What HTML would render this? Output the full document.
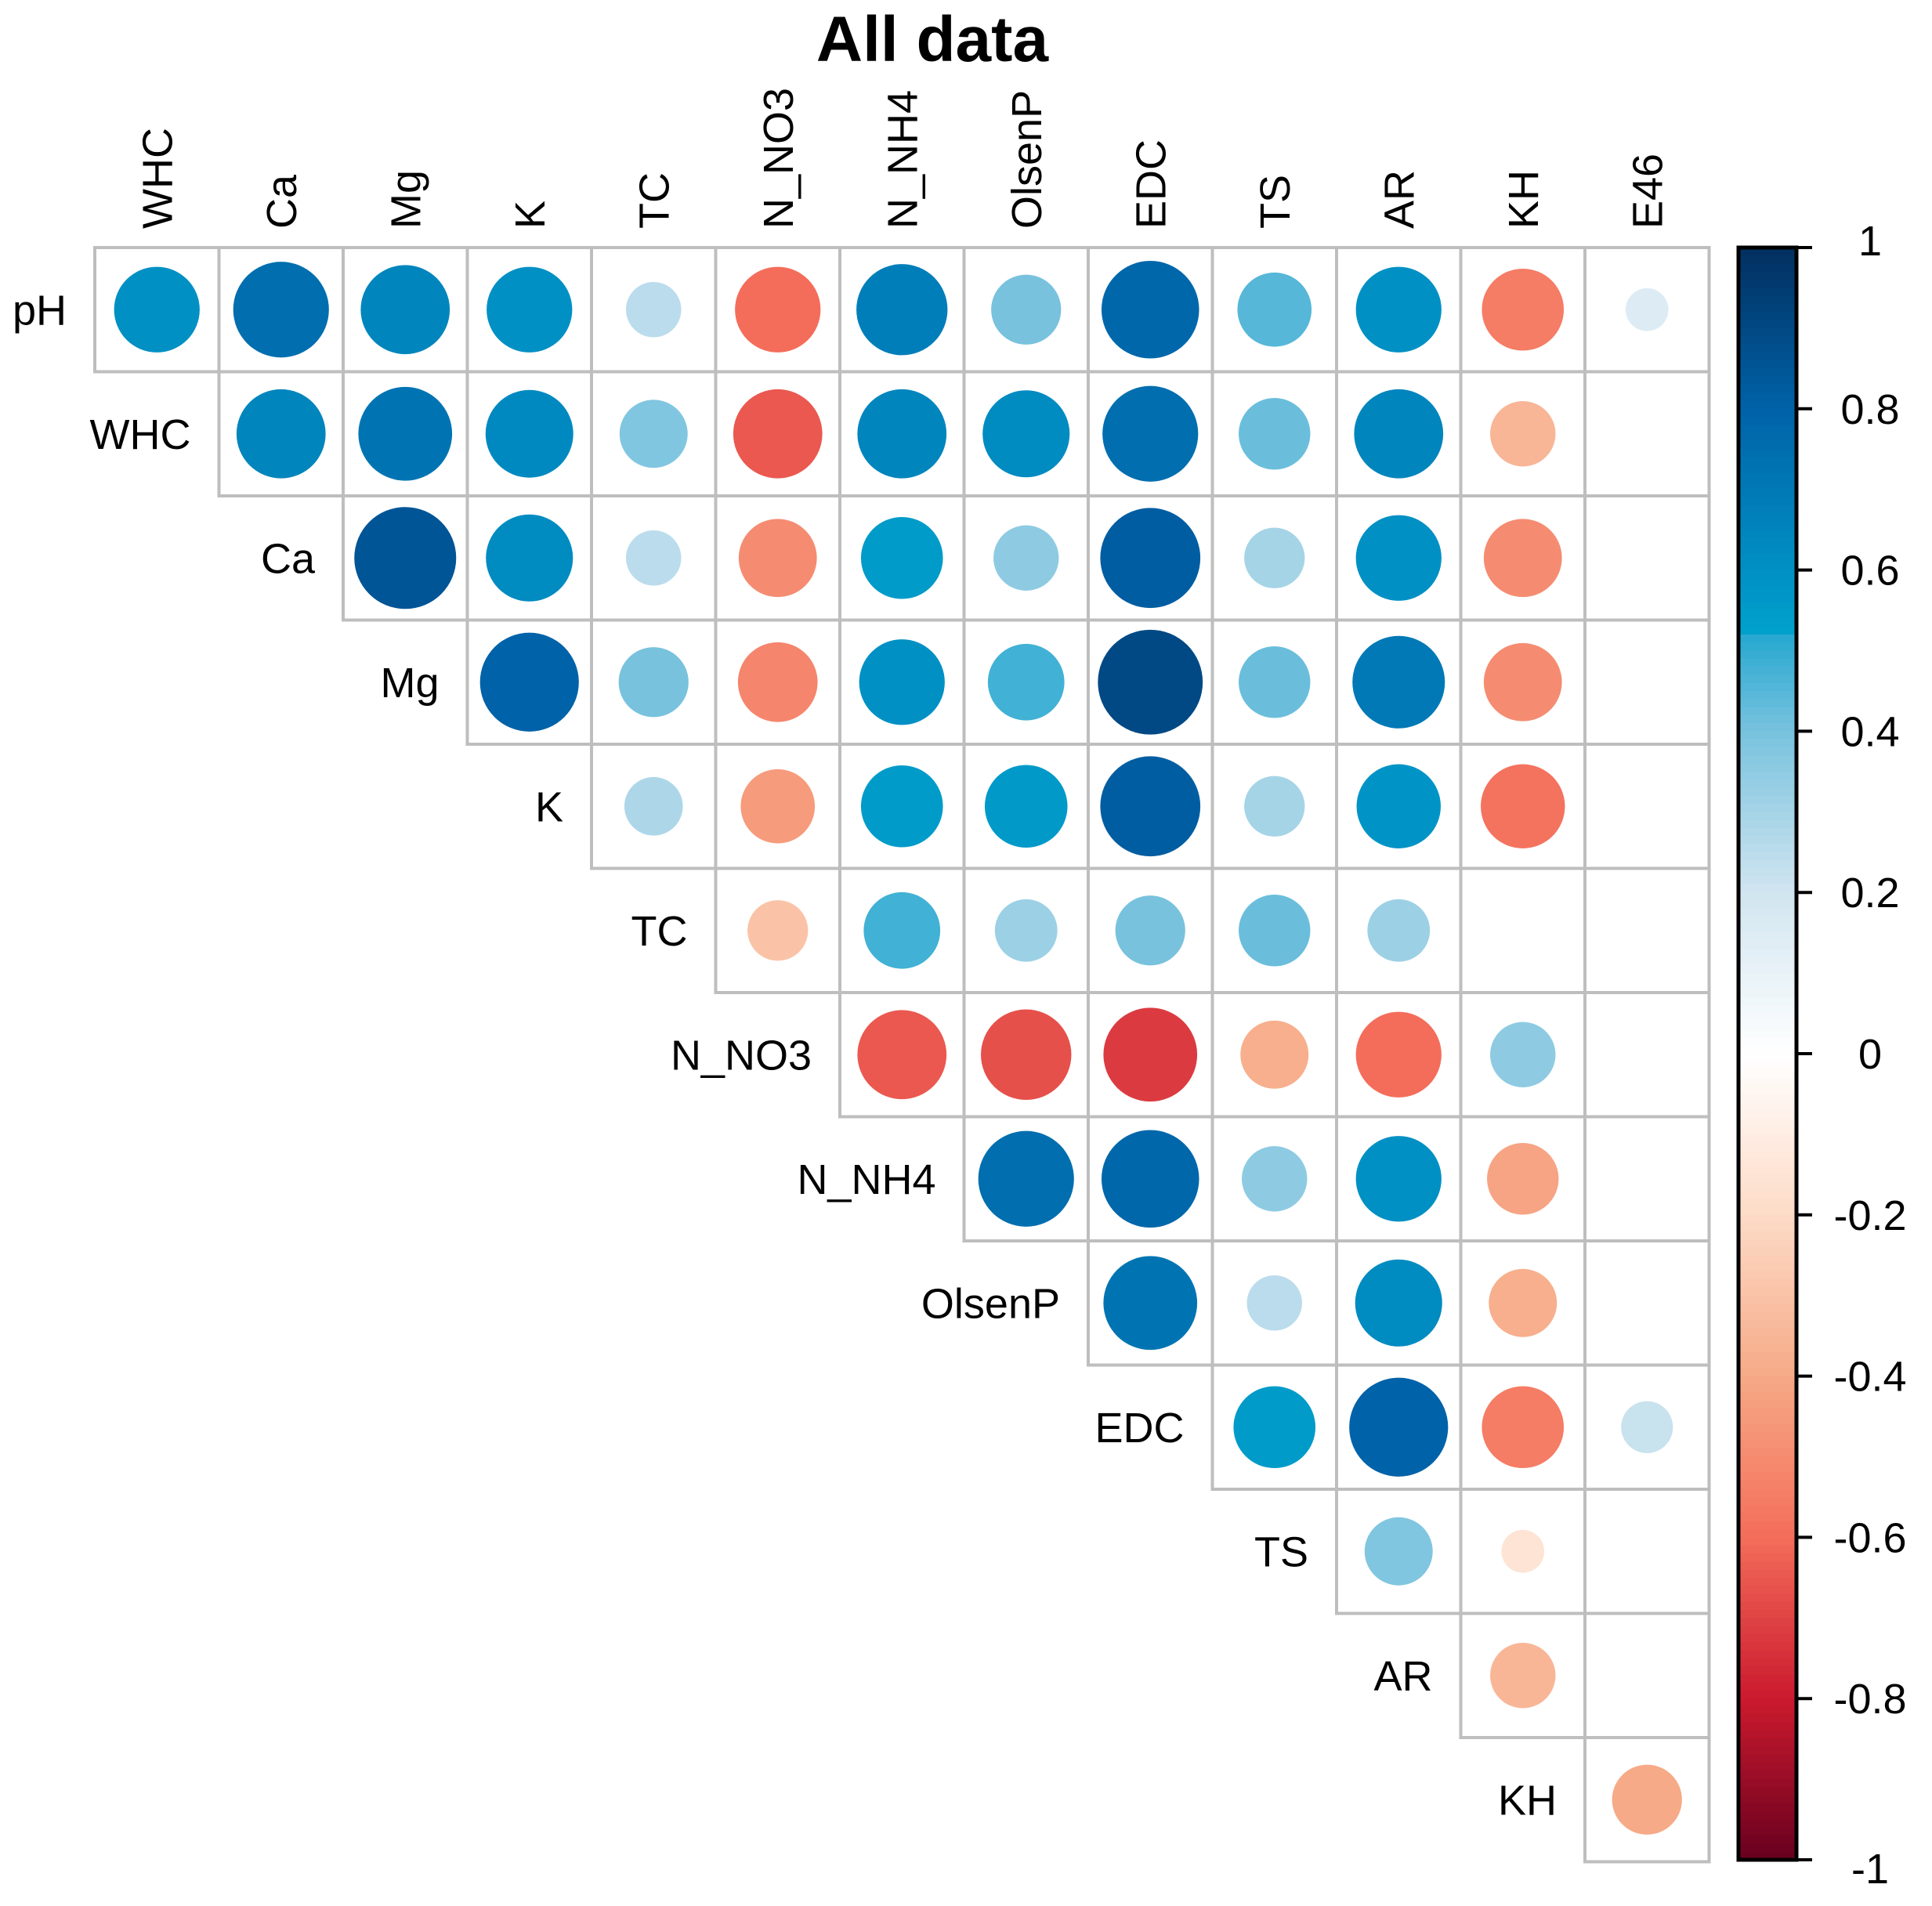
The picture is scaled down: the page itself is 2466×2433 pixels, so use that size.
<!DOCTYPE html>
<html><head><meta charset="utf-8"><style>
html,body{margin:0;padding:0;background:#fff;}
svg{display:block;font-family:"Liberation Sans",Arial,sans-serif;}
</style></head><body>
<svg id="chart" xmlns="http://www.w3.org/2000/svg" width="2466" height="2433" viewBox="0 0 2466 2433">
<text x="1190" y="78" font-size="82" font-weight="bold" text-anchor="middle">All data</text>
<g id="grid"></g><g id="circles"></g><g id="labels"></g><g id="cbar"></g>
</svg>
<script>
const vars = ["pH","WHC","Ca","Mg","K","TC","N_NO3","N_NH4","OlsenP","EDC","TS","AR","KH","E46"];
const rowPH = [0.6,0.75,0.65,0.6,0.25,-0.6,0.68,0.4,0.78,0.45,0.6,-0.55,0.15];
const rowWHC = [0.65,0.72,0.63,0.38,-0.65,0.65,0.62,0.75,0.42,0.65,-0.35,0];
const rowCa = [0.85,0.62,0.25,-0.5,0.55,0.35,0.82,0.3,0.6,-0.5,0];
const rowMg = [0.8,0.4,-0.52,0.6,0.48,0.9,0.42,0.7,-0.5,0];
const rowK = [0.28,-0.45,0.55,0.56,0.82,0.3,0.58,-0.58,0];
const rowTC = [-0.3,0.48,0.32,0.4,0.42,0.32,0,0];
const rowNO3 = [-0.65,-0.67,-0.72,-0.38,-0.6,0.35,0];
const rowNH4 = [0.75,0.78,0.35,0.6,-0.42,0];
const rowOlsen = [0.72,0.25,0.62,-0.38,0];
const rowEDC = [0.55,0.8,-0.55,0.22];
const rowTS = [0.38,-0.15,0];
const rowAR = [-0.35,0];
const rowKH = [-0.4];
const rows = [rowPH,rowWHC,rowCa,rowMg,rowK,rowTC,rowNO3,rowNH4,rowOlsen,rowEDC,rowTS,rowAR,rowKH];
const cbTicks = [1,0.8,0.6,0.4,0.2,0,-0.2,-0.4,-0.6,-0.8,-1];
const cbTickLabels = ["1","0.8","0.6","0.4","0.2","0","-0.2","-0.4","-0.6","-0.8","-1"];

const NS="http://www.w3.org/2000/svg";
const L=121, T=316, C=158.5;
const cbL=2219, cbR=2293, cbT=316, cbB=2374;
const colX = j => L + (j-1)*C;       // column index j: 1..13 (vars[j])
const rowY = i => T + i*C;           // row index i: 0..12
const cbY = v => cbT + (1-v)/2*(cbB-cbT);
const stops=[[-1,[103,0,31]],[-0.8,[203,26,46]],[-0.6,[244,109,90]],[-0.4,[246,170,135]],[-0.2,[253,219,199]],[0,[255,255,255]],[0.2,[209,229,240]],[0.4,[120,194,222]],[0.52,[38,168,208]],[0.525,[0,160,204]],[0.6,[0,144,196]],[0.8,[0,98,168]],[1,[2,47,95]]];
function col(v){for(let k=0;k<stops.length-1;k++){const a=stops[k],b=stops[k+1];if(v>=a[0]&&v<=b[0]){const t=(v-a[0])/(b[0]-a[0]);const c=a[1].map((x,i)=>Math.round(x+(b[1][i]-x)*t));return `rgb(${c})`;}}return "#fff";}
function mk(tag,attrs,parent){const e=document.createElementNS(NS,tag);for(const k in attrs)e.setAttribute(k,attrs[k]);parent.appendChild(e);return e;}
const grid=document.getElementById('grid'),circ=document.getElementById('circles'),lab=document.getElementById('labels'),cb=document.getElementById('cbar');
rows.forEach((row,i)=>{
  row.forEach((v,k)=>{
    const j=i+1+k;
    const x=colX(j), y=rowY(i);
    const r=mk('rect',{x:x,y:y,width:C,height:C,fill:'none',stroke:'#bebebe','stroke-width':4},grid);
    
    
    if(v!==0){
      const c=mk('circle',{cx:x+C/2,cy:y+C/2,r:0.445*C*Math.sqrt(Math.abs(v)),fill:col(v)},circ);
      
      
    }
  });
  const t=mk('text',{x:colX(i+1)-36,y:rowY(i)+C/2+19,'font-size':54,'text-anchor':'end'},lab);
  t.textContent=vars[i];
  
  
});
for(let j=1;j<vars.length;j++){
  const cx=colX(j)+C/2+19;
  const t=mk('text',{x:cx,y:292,'font-size':54,transform:`rotate(-90 ${cx} 292)`},lab);
  t.textContent=vars[j];
  
  
}
const N=200;
for(let k=0;k<N;k++){
  const v1=1-2*k/N, v2=1-2*(k+1)/N;
  const s=mk('rect',{x:cbL,y:cbY(v1),width:cbR-cbL,height:cbY(v2)-cbY(v1)+0.8,fill:col((v1+v2)/2)},cb);
  
  
}
const fr=mk('rect',{x:cbL,y:cbT,width:cbR-cbL,height:cbB-cbT,fill:'none',stroke:'#000','stroke-width':5},cb);


cbTicks.forEach((v,k)=>{
  const y=cbY(v);
  const tk=mk('line',{x1:cbR,x2:cbR+20,y1:y,y2:y,stroke:'#000','stroke-width':4},cb);
  
  
  const t=mk('text',{x:2387,y:y+(k===0?10:k===cbTicks.length-1?30:19),'font-size':54,'text-anchor':'middle'},cb);
  t.textContent=cbTickLabels[k];
  
  
});
</script>
</body></html>
